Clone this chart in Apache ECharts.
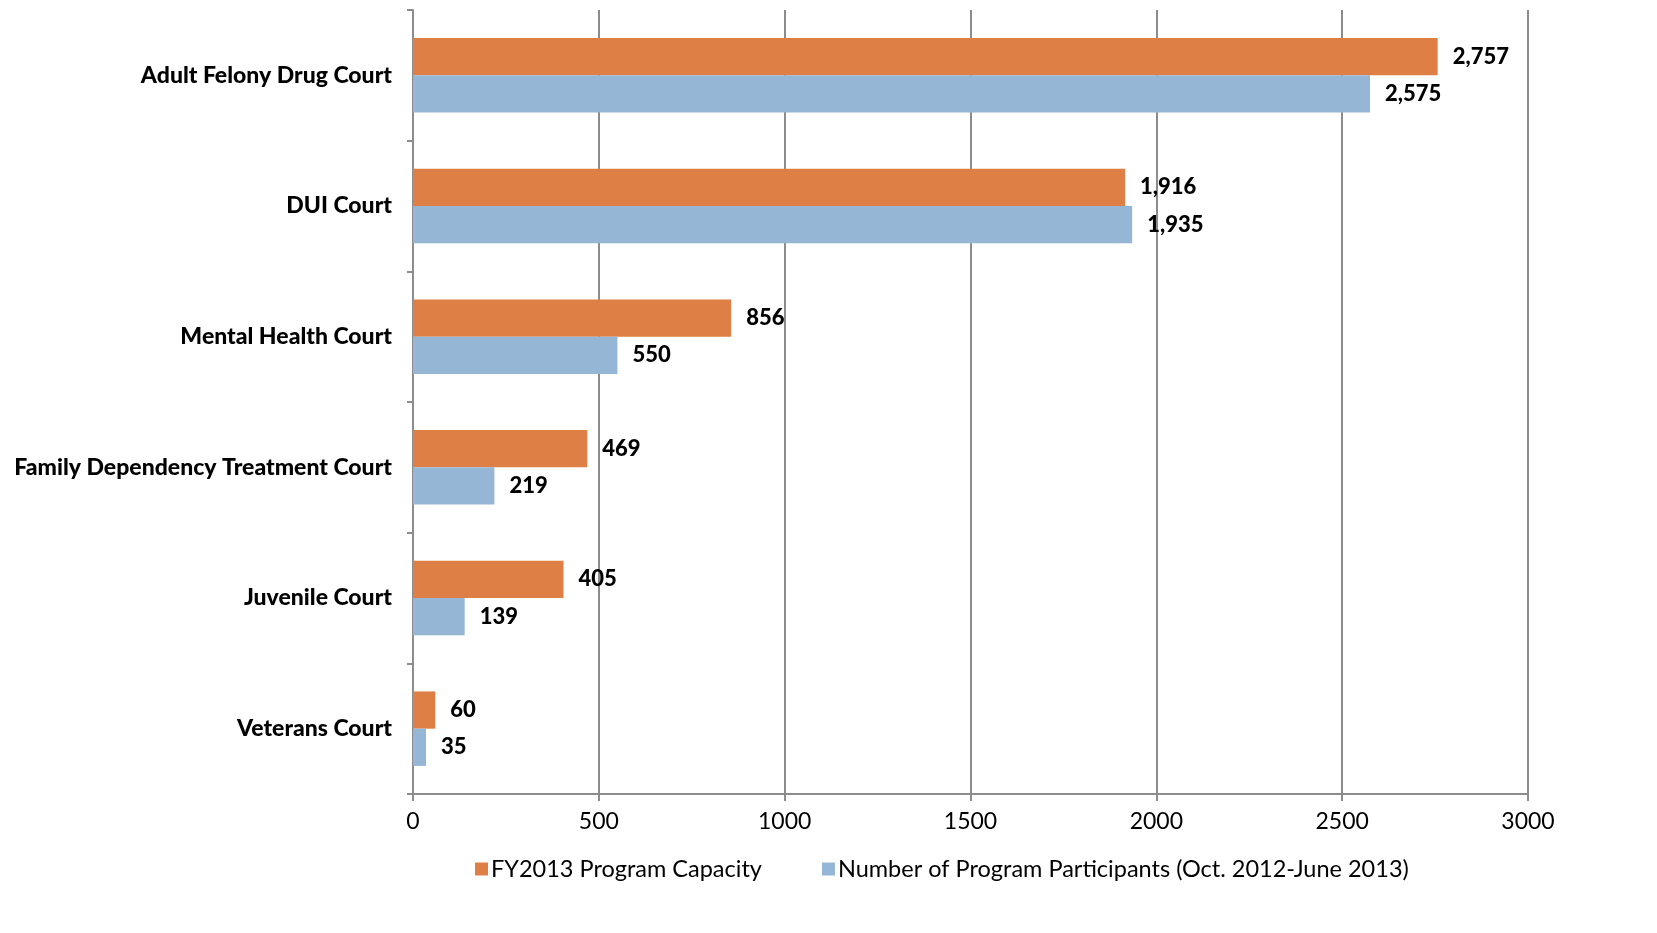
<!DOCTYPE html>
<html>
<head>
<meta charset="utf-8">
<script src="https://cdn.jsdelivr.net/npm/echarts@6/dist/echarts.min.js"></script>
<style>
html,body{margin:0;padding:0;background:#fff;}
#chart{width:1657px;height:933px;}
</style>
</head>
<body>
<div id="chart"></div>
<script>
const categories = ["Adult Felony Drug Court","DUI Court","Mental Health Court","Family Dependency Treatment Court","Juvenile Court","Veterans Court"];
const capacityName = "FY2013 Program Capacity";
const participantsName = "Number of Program Participants (Oct. 2012-June 2013)";
const capacity = [2757,1916,856,469,405,60];
const participants = [2575,1935,550,219,139,35];
const xTicks = [0,500,1000,1500,2000,2500,3000];

const FONT = "Lato";
const chart = echarts.init(document.getElementById('chart'));
const labelCfg = {
  show: true, position: 'right', distance: 15,
  fontFamily: FONT, fontWeight: 900, fontSize: 22, color: '#000',
  formatter: p => p.value.toLocaleString('en-US')
};
chart.setOption({
  animation: false,
  grid: {left: 413, right: 129, top: 10, bottom: 139, containLabel: false},
  legend: {
    bottom: 47, left: 470, itemWidth: 13, itemHeight: 13, itemGap: 60,
    icon: 'rect',
    textStyle: {fontFamily: FONT, fontSize: 23.5, color: '#000', padding: [0,0,0,-2]},
    data: [capacityName, participantsName]
  },
  xAxis: {
    type: 'value', min: xTicks[0], max: xTicks[xTicks.length-1], interval: 500,
    axisLine: {show: true, lineStyle: {color: '#8c8c8c', width: 2}},
    axisTick: {show: true, length: 7, lineStyle: {color: '#8c8c8c', width: 2}},
    splitLine: {show: true, lineStyle: {color: '#8c8c8c', width: 2}},
    axisLabel: {fontFamily: FONT, fontSize: 23, color: '#000', margin: 16,
      formatter: v => String(v)}
  },
  yAxis: {
    type: 'category', data: categories, inverse: true,
    axisLine: {show: true, lineStyle: {color: '#8c8c8c', width: 2}},
    axisTick: {show: true, length: 6, lineStyle: {color: '#8c8c8c', width: 2}},
    axisLabel: {fontFamily: FONT, fontWeight: 900, fontSize: 23, color: '#000', margin: 21}
  },
  series: [
    {name: capacityName, type: 'bar', data: capacity, barGap: '0%', barCategoryGap: '43%',
     itemStyle: {color: '#DE8046'}, label: labelCfg},
    {name: participantsName, type: 'bar', data: participants, barGap: '0%', barCategoryGap: '43%',
     itemStyle: {color: '#95B6D4'}, label: labelCfg}
  ]
});
</script>
</body>
</html>
